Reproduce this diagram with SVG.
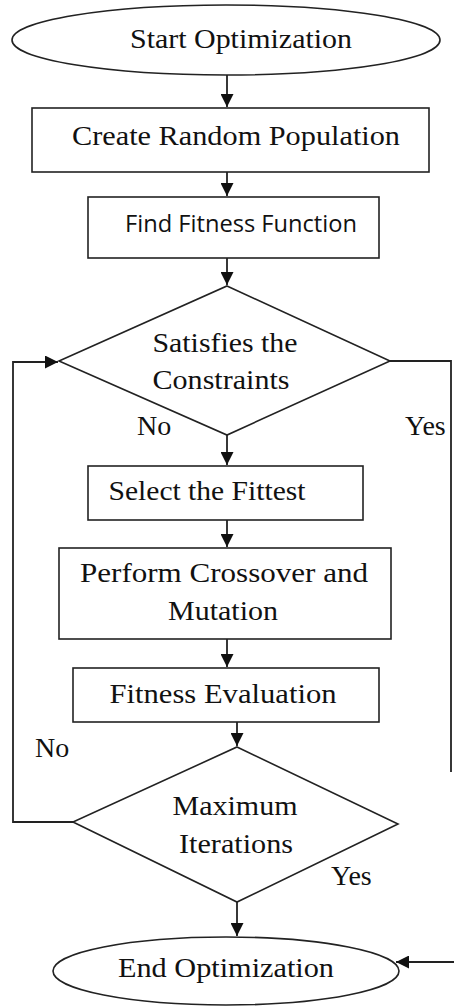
<svg xmlns="http://www.w3.org/2000/svg" width="454" height="1008" viewBox="0 0 454 1008">
<style>
.shape{fill:#fff;stroke:#222;stroke-width:1.6}
.line{fill:none;stroke:#222;stroke-width:1.8}
.t{font-family:"Liberation Serif","Times New Roman",serif;font-size:28px;fill:#111}
.s{font-family:"Open Sans","Liberation Sans",sans-serif;font-size:23px;fill:#111}
</style>
<defs>
<marker id="ah" viewBox="0 0 10 10" refX="10" refY="5" markerWidth="13" markerHeight="13" markerUnits="userSpaceOnUse" orient="auto">
<path d="M0,0 L10,5 L0,10 z" fill="#111"/>
</marker>
</defs>
<rect width="454" height="1008" fill="#fff"/>
<g id="connectors">
<line class="line" x1="227" y1="75" x2="227" y2="107" marker-end="url(#ah)"/>
<line class="line" x1="227" y1="172" x2="227" y2="196" marker-end="url(#ah)"/>
<line class="line" x1="227" y1="258" x2="227" y2="285" marker-end="url(#ah)"/>
<line class="line" x1="227" y1="435" x2="227" y2="465" marker-end="url(#ah)"/>
<line class="line" x1="227" y1="520" x2="227" y2="547" marker-end="url(#ah)"/>
<line class="line" x1="227" y1="639" x2="227" y2="667" marker-end="url(#ah)"/>
<line class="line" x1="237" y1="722" x2="237" y2="746" marker-end="url(#ah)"/>
<line class="line" x1="237" y1="902" x2="237" y2="936" marker-end="url(#ah)"/>
<polyline class="line" points="73,822 13,822 13,362 58,362" marker-end="url(#ah)"/>
<polyline class="line" points="390,361 451,361 451,772"/>
<line class="line" x1="454" y1="962" x2="396" y2="962" marker-end="url(#ah)"/>
</g>
<g id="start">
<ellipse class="shape" cx="226" cy="40" rx="214" ry="35"/>
<text class="t" x="241" y="48" text-anchor="middle" textLength="222" lengthAdjust="spacingAndGlyphs">Start Optimization</text>
</g>
<g id="create">
<rect class="shape" x="32" y="108" width="397" height="64"/>
<text class="t" x="236" y="145" text-anchor="middle" textLength="328" lengthAdjust="spacingAndGlyphs">Create Random Population</text>
</g>
<g id="find">
<rect class="shape" x="88" y="197" width="291" height="61"/>
<text class="s" x="241" y="232" text-anchor="middle" textLength="232" lengthAdjust="spacingAndGlyphs">Find Fitness Function</text>
</g>
<g id="satisfies">
<polygon class="shape" points="227,286 390,361 227,435 59,361"/>
<text class="t" x="225" y="352" text-anchor="middle" textLength="145" lengthAdjust="spacingAndGlyphs">Satisfies the</text>
<text class="t" x="221" y="389" text-anchor="middle" textLength="137" lengthAdjust="spacingAndGlyphs">Constraints</text>
</g>
<g id="labels">
<text class="t" x="137" y="435">No</text>
<text class="t" x="405" y="435">Yes</text>
<text class="t" x="35" y="757">No</text>
<text class="t" x="331" y="885">Yes</text>
</g>
<g id="select">
<rect class="shape" x="88" y="466" width="275" height="54"/>
<text class="t" x="207" y="500" text-anchor="middle" textLength="197" lengthAdjust="spacingAndGlyphs">Select the Fittest</text>
</g>
<g id="perform">
<rect class="shape" x="59" y="548" width="332" height="91"/>
<text class="t" x="224" y="582" text-anchor="middle" textLength="288" lengthAdjust="spacingAndGlyphs">Perform Crossover and</text>
<text class="t" x="223" y="620" text-anchor="middle" textLength="110" lengthAdjust="spacingAndGlyphs">Mutation</text>
</g>
<g id="evaluation">
<rect class="shape" x="73" y="668" width="306" height="54"/>
<text class="t" x="223" y="703" text-anchor="middle" textLength="227" lengthAdjust="spacingAndGlyphs">Fitness Evaluation</text>
</g>
<g id="maximum">
<polygon class="shape" points="237,747 398,824 237,902 73,822"/>
<text class="t" x="235" y="815" text-anchor="middle" textLength="125" lengthAdjust="spacingAndGlyphs">Maximum</text>
<text class="t" x="236" y="853" text-anchor="middle" textLength="114" lengthAdjust="spacingAndGlyphs">Iterations</text>
</g>
<g id="end">
<ellipse class="shape" cx="226" cy="971" rx="173" ry="34"/>
<text class="t" x="226" y="977" text-anchor="middle" textLength="216" lengthAdjust="spacingAndGlyphs">End Optimization</text>
</g>
</svg>
